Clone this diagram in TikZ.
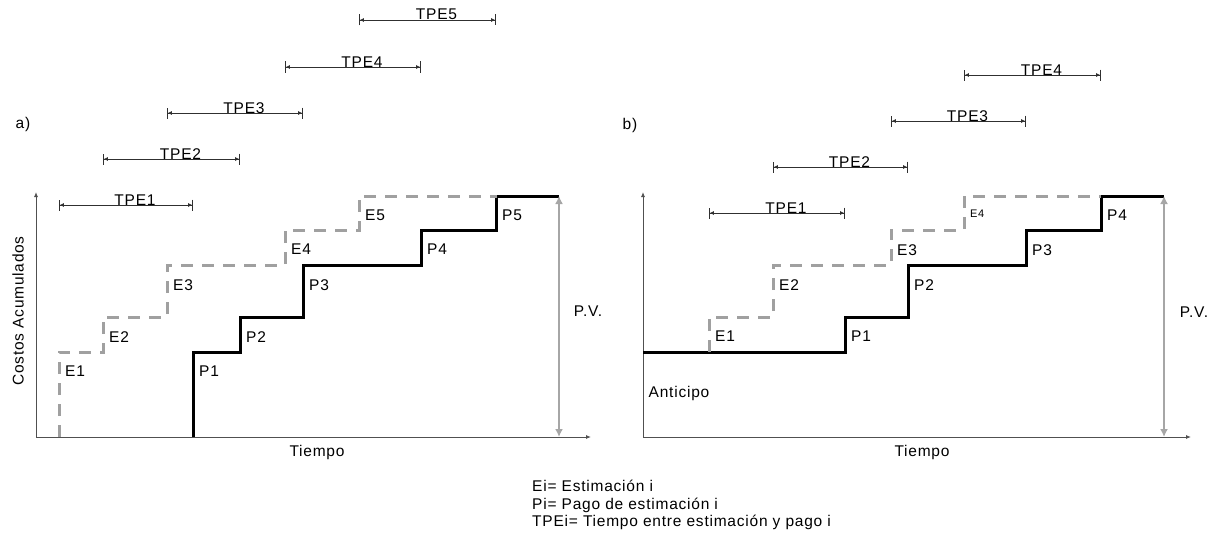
\documentclass[tikz,border=0pt]{standalone}
\usepackage{fontspec}
\setmainfont{Liberation Sans}[LetterSpace=5]
\usetikzlibrary{arrows.meta,calc}
\definecolor{axisgray}{HTML}{505050}
\definecolor{estgray}{HTML}{A0A0A0}
\definecolor{pvgray}{HTML}{A6A6A6}
\definecolor{tpegray}{HTML}{303030}
\tikzset{
  axis/.style={draw=axisgray,line width=.9pt,-{Latex[length=5pt,width=4pt]}},
  estline/.style={draw=estgray,line width=3pt,dash pattern=on 12pt off 9pt},
  payline/.style={draw=black,line width=3pt},
  pvarrow/.style={{Latex[length=8pt,width=8pt]}-{Latex[length=8pt,width=8pt]},
    draw=pvgray,line width=2pt},
  tpe/.style={{Bar[width=11pt]Latex[length=4pt,width=4pt]}-{Latex[length=4pt,width=4pt]Bar[width=11pt]},
    draw=tpegray,line width=.8pt},
  tpelabel/.style={anchor=base,inner sep=0pt,xshift=9pt},
  steplabel/.style={anchor=north west,inner sep=0pt,xshift=6pt,yshift=-14pt},
  smalllabel/.style={steplabel,font=\fontsize{11}{13}\selectfont}
}

\begin{document}
\begin{tikzpicture}[x=1pt,y=-1pt,font=\fontsize{15.5}{17.5}\selectfont]
\useasboundingbox (0,0) rectangle (1225,543);

% a) sin anticipo
\coordinate (aO) at (36,437);
\coordinate (aY) at (36,192);
\coordinate (aX) at (591,437);
\coordinate (aE1) at (59,352);
\coordinate (aE2) at (103,317);
\coordinate (aE3) at (167,265);
\coordinate (aE4) at (285,230);
\coordinate (aE5) at (359,196);
\coordinate (aEf) at (497,196);
\coordinate (aP1) at (193,352);
\coordinate (aP2) at (240,317);
\coordinate (aP3) at (303,265);
\coordinate (aP4) at (421,230);
\coordinate (aP5) at (496,196);
\coordinate (aPf) at (559,196);

\draw[axis] (aO) -- (aY);
\draw[axis] (aO) -- (aX);
\draw[payline] (aP1 |- aO) -- (aP1) -| (aP2) -| (aP3) -| (aP4) -| (aP5) -- (aPf);
\draw[estline] (aE1 |- aO) -- (aE1) -| (aE2) -| (aE3) -| (aE4) -| (aE5) -- (aEf);
\draw[pvarrow] (aPf) -- (aPf |- aO);

\foreach \i in {1,...,5} {
  \node[steplabel] (laE\i) at (aE\i) {E\i};
  \node[steplabel] (laP\i) at (aP\i) {P\i};
}
\foreach \i/\y in {1/205,2/159,3/113,4/67,5/20}
  \draw[tpe] (aE\i |- 0,\y) -- node[tpelabel] (taTPE\i) {TPE\i} (aP\i |- 0,\y);

\node (ta) at (23,124) {a)};
\node[rotate=90] (ylab) at (18,311) {Costos Acumulados};
\node (xa) at (317,452) {Tiempo};
\node (pva) at (588,311) {P.V.};

% b) con anticipo
\coordinate (bO) at (643,437);
\coordinate (bY) at (643,192);
\coordinate (bX) at (1191,437);
\coordinate (bA) at (643,352);
\coordinate (bE1) at (709,317);
\coordinate (bE2) at (773,265);
\coordinate (bE3) at (891,230);
\coordinate (bE4) at (964,196);
\coordinate (bEf) at (1101,196);
\coordinate (bP1) at (845,317);
\coordinate (bP2) at (908,265);
\coordinate (bP3) at (1026,230);
\coordinate (bP4) at (1101,196);
\coordinate (bPf) at (1164,196);

\draw[axis] (bO) -- (bY);
\draw[axis] (bO) -- (bX);
\draw[payline] (bA) -| (bP1) -| (bP2) -| (bP3) -| (bP4) -- (bPf);
\draw[estline] (bE1 |- bA) -- (bE1) -| (bE2) -| (bE3) -| (bE4) -- (bEf);
\draw[pvarrow] (bPf) -- (bPf |- bO);

\foreach \i in {1,2,3} \node[steplabel] (lbE\i) at (bE\i) {E\i};
\node[smalllabel] (lbE4) at (bE4) {E4};
\foreach \i in {1,...,4} \node[steplabel] (lbP\i) at (bP\i) {P\i};
\foreach \i/\y in {1/213,2/167,3/121,4/75}
  \draw[tpe] (bE\i |- 0,\y) -- node[tpelabel] (tbTPE\i) {TPE\i} (bP\i |- 0,\y);

\node (tb) at (630,125) {b)};
\node (xb) at (922,452) {Tiempo};
\node (pvb) at (1194,312) {P.V.};
\node (ant) at (679,393) {Anticipo};

% leyenda
\node[anchor=north west,align=left,inner sep=0pt] (legend) at (532,480)
{Ei= Estimación i\\Pi= Pago de estimación i\\TPEi= Tiempo entre estimación y pago i};
\end{tikzpicture}
\end{document}
